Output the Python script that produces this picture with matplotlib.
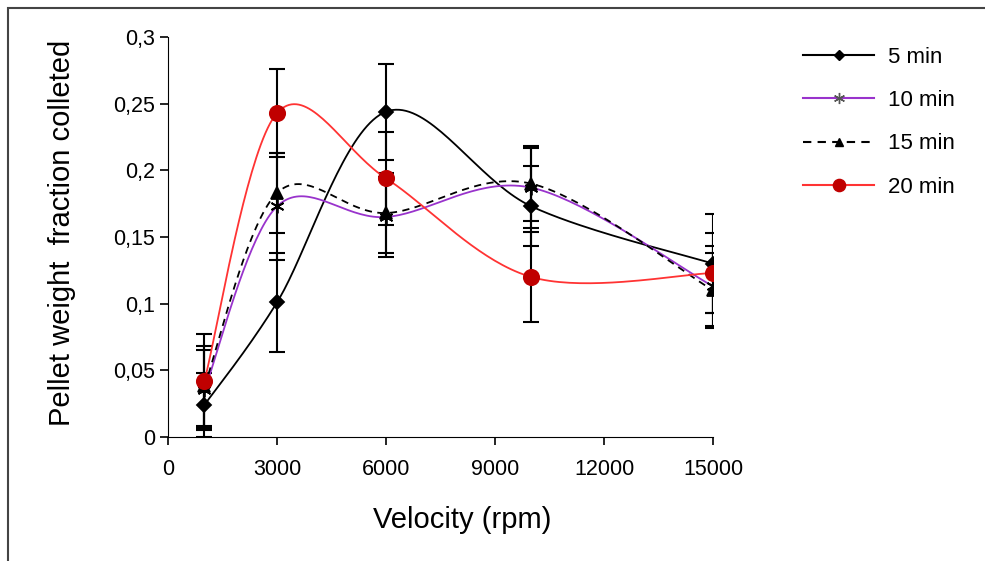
import numpy as np
import matplotlib.pyplot as plt
from matplotlib.patches import Rectangle
from matplotlib.ticker import FuncFormatter

plt.rcParams['font.family'] = ['Liberation Sans', 'DejaVu Sans']

velocity = [1000, 3000, 6000, 10000, 15000]

w5 = [0.024, 0.101, 0.244, 0.173, 0.130]
w10 = [0.035, 0.173, 0.165, 0.187, 0.113]
w15 = [0.038, 0.183, 0.168, 0.190, 0.110]
w20 = [0.042, 0.243, 0.194, 0.120, 0.123]

e5 = [0.024, 0.037, 0.036, 0.030, 0.037]
e10 = [0.030, 0.040, 0.030, 0.030, 0.030]
e15 = [0.030, 0.030, 0.030, 0.028, 0.028]
e20 = [0.035, 0.033, 0.035, 0.034, 0.030]

labels = ['5 min', '10 min', '15 min', '20 min']


def smooth(x, y, n=40):
    # Excel-like smoothed line: cubic bezier with catmull-rom control points
    x = np.asarray(x, float)
    y = np.asarray(y, float)
    px = np.concatenate([[x[0]], x, [x[-1]]])
    py = np.concatenate([[y[0]], y, [y[-1]]])
    xs, ys = [], []
    t = np.linspace(0, 1, n)
    for i in range(1, len(px) - 2):
        p0 = np.array([px[i], py[i]])
        p3 = np.array([px[i + 1], py[i + 1]])
        p1 = p0 + (p3 - np.array([px[i - 1], py[i - 1]])) / 6
        p2 = p3 - (np.array([px[i + 2], py[i + 2]]) - p0) / 6
        b = ((1 - t) ** 3)[:, None] * p0 + (3 * (1 - t) ** 2 * t)[:, None] * p1 \
            + (3 * (1 - t) * t ** 2)[:, None] * p2 + (t ** 3)[:, None] * p3
        xs.extend(b[:, 0])
        ys.extend(b[:, 1])
    return np.array(xs), np.array(ys)


fig = plt.figure(figsize=(9.85, 5.61), dpi=100)
# outer frame, only left and top edges fall inside the picture
fig.patches.append(Rectangle((0.008, -0.1), 1.2, 1.085, transform=fig.transFigure,
                             fill=False, edgecolor='#444444', linewidth=1.5))
ax = fig.add_axes([0.1706, 0.221, 0.5533, 0.713])

series = [
    (w5, e5, 'black', '-', 'D', 7, 'black'),
    (w10, e10, '#9933cc', '-', (6, 2, 0), 10, 'black'),
    (w15, e15, 'black', (0, (4, 3)), '^', 8, 'black'),
    (w20, e20, '#ff3333', '-', 'o', 11, '#c00000'),
]

handles = []
for (ys, es, col, ls, mk, ms, mc), lab in zip(series, labels):
    ax.errorbar(velocity, ys, yerr=es, fmt='none', ecolor='black',
                elinewidth=1.5, capsize=6, capthick=1.5, zorder=2)
    sx, sy = smooth(velocity, ys)
    ax.plot(sx, sy, color=col, linestyle=ls, linewidth=1.3, zorder=3)
    ax.plot(velocity, ys, linestyle='none', marker=mk, markersize=ms,
            color=mc, markeredgecolor=mc, markeredgewidth=1.3, zorder=4)
    lmc = '#555555' if lab == '10 min' else mc
    h, = ax.plot([], [], color=col, linestyle=ls, linewidth=1.5, marker=mk,
                 markersize=ms * 0.8, markerfacecolor=lmc, markeredgecolor=lmc)
    handles.append(h)

ax.set_xlim(0, 15000)
ax.set_ylim(0, 0.3)
ax.set_xticks([0, 3000, 6000, 9000, 12000, 15000])
ax.set_yticks([0, 0.05, 0.1, 0.15, 0.2, 0.25, 0.3])
ax.yaxis.set_major_formatter(FuncFormatter(lambda v, p: ('%g' % v).replace('.', ',')))
ax.spines['top'].set_visible(False)
ax.spines['right'].set_visible(False)
ax.tick_params(labelsize=15.5, length=6, width=1.2)
ax.tick_params(axis='x', pad=10)
ax.set_xlabel('Velocity (rpm)', fontsize=21)
ax.set_ylabel('Pellet weight  fraction colleted', fontsize=21)
ax.xaxis.set_label_coords(0.54, -0.2075)
ax.yaxis.set_label_coords(-0.1945, 0.51)
ax.xaxis.label.set_va('center')
ax.yaxis.label.set_va('center')

fig.legend(handles, labels, loc='upper left', bbox_to_anchor=(0.795, 0.952),
           frameon=False, fontsize=16, handlelength=3.2, labelspacing=1.0,
           handletextpad=0.6)

fig.savefig('out.png', dpi=100)
